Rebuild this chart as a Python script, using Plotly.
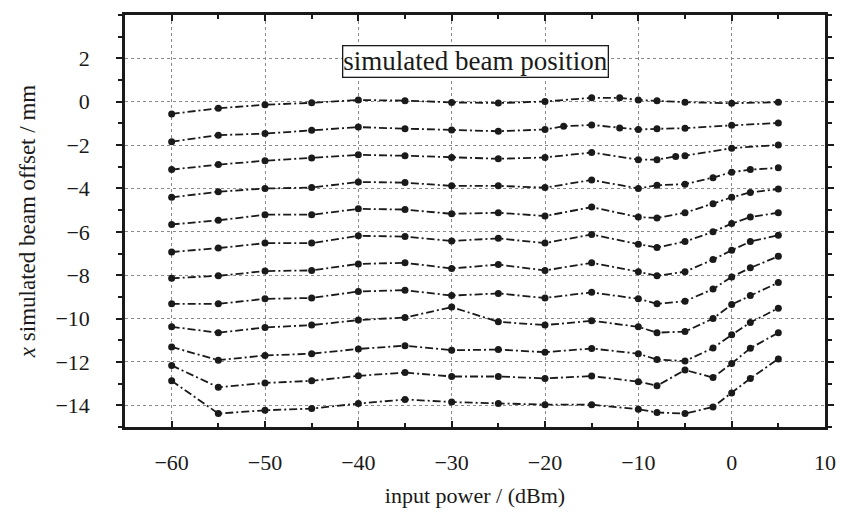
import plotly.graph_objects as go

POWER = [-60, -55, -50, -45, -40, -35, -30, -25, -20, -18, -15, -12, -10, -8, -6, -5, -2, 0, 2, 5]

line1 = [-0.56, -0.30, -0.14, -0.05, 0.08, 0.05, -0.03, -0.06, 0.01, None, 0.18, 0.18, 0.08, 0.04, None, -0.02, None, -0.07, None, -0.02]
line2 = [-1.84, -1.54, -1.47, -1.31, -1.17, -1.24, -1.30, -1.36, -1.28, -1.13, -1.07, -1.21, -1.28, -1.25, None, -1.22, None, -1.09, None, -0.98]
line3 = [-3.13, -2.90, -2.72, -2.60, -2.45, -2.49, -2.57, -2.63, -2.57, None, -2.34, None, -2.67, -2.67, -2.52, -2.49, None, -2.14, None, -1.99]
line4 = [-4.41, -4.15, -4.00, -3.96, -3.70, -3.73, -3.88, -3.88, -3.96, None, -3.61, None, -4.00, -3.85, None, -3.80, -3.50, -3.25, -3.13, -3.05]
line5 = [-5.66, -5.47, -5.21, -5.21, -4.94, -4.97, -5.17, -5.12, -5.27, None, -4.86, None, -5.32, -5.36, None, -5.12, -4.71, -4.41, -4.18, -4.03]
line6 = [-6.93, -6.75, -6.52, -6.52, -6.18, -6.22, -6.42, -6.30, -6.52, None, -6.12, None, -6.57, -6.72, None, -6.45, -6.00, -5.62, -5.32, -5.12]
line7 = [-8.14, -8.03, -7.81, -7.78, -7.48, -7.43, -7.69, -7.51, -7.78, None, -7.43, None, -7.84, -8.03, None, -7.84, -7.28, -6.85, -6.45, -6.16]
line8 = [-9.32, -9.32, -9.09, -9.05, -8.75, -8.69, -8.94, -8.84, -9.05, None, -8.79, None, -9.09, -9.32, None, -9.20, -8.64, -8.08, -7.66, -7.13]
line9 = [-10.38, -10.65, -10.41, -10.30, -10.07, -9.95, -9.47, -10.15, -10.30, None, -10.10, None, -10.38, -10.65, None, -10.60, -10.00, -9.35, -8.94, -8.34]
line10 = [-11.31, -11.92, -11.70, -11.62, -11.40, -11.25, -11.46, -11.43, -11.55, None, -11.38, None, -11.62, -11.89, None, -11.96, -11.36, -10.75, -10.18, -9.52]
line11 = [-12.16, -13.17, -12.97, -12.87, -12.64, -12.49, -12.67, -12.67, -12.76, None, -12.65, None, -12.91, -13.10, None, -12.37, -12.72, -12.07, -11.37, -10.65]
line12 = [-12.87, -14.38, -14.23, -14.15, -13.92, -13.73, -13.85, -13.92, -13.97, None, -13.97, None, -14.18, -14.33, None, -14.38, -14.08, -13.43, -12.76, -11.86]

LINES = [line1, line2, line3, line4, line5, line6, line7, line8, line9, line10, line11, line12]

X_TICKS = [-60, -50, -40, -30, -20, -10, 0, 10]
Y_TICKS = [2, 0, -2, -4, -6, -8, -10, -12, -14]


def fmt(v):
    return ("\u2212" + str(-v)) if v < 0 else str(v)


FONT = "Liberation Serif, Times New Roman, serif"
INK = "#1a1a1a"

fig = go.Figure()
for ys in LINES:
    fig.add_trace(go.Scatter(
        x=POWER, y=ys, mode="lines+markers", connectgaps=True,
        line=dict(color=INK, width=1.8, dash="8px,3px,2px,3px"),
        marker=dict(color=INK, size=7, symbol="circle"),
        showlegend=False, hoverinfo="skip",
    ))

fig.add_annotation(
    x=-27.5, y=1.85, xref="x", yref="y",
    text="simulated beam position", showarrow=False,
    font=dict(family=FONT, size=27, color=INK),
    bordercolor=INK, borderwidth=1.3, borderpad=0, bgcolor="white",
)

fig.update_xaxes(
    range=[-65, 10], tickvals=X_TICKS, ticktext=[fmt(v) for v in X_TICKS],
    showgrid=True, gridcolor="#8a8a8a", griddash="dot", gridwidth=1,
    showline=True, linecolor=INK, linewidth=2.5, mirror="ticks",
    ticks="inside", ticklen=6, tickcolor=INK, tickwidth=1.5,
    minor=dict(dtick=5, ticks="inside", ticklen=4, tickcolor=INK, showgrid=False),
    zeroline=False,
    tickfont=dict(family=FONT, size=22, color=INK),
    ticklabelstandoff=14,
    title=dict(text="input power / (dBm)", font=dict(family=FONT, size=22, color=INK), standoff=14),
)
fig.update_yaxes(
    range=[-15, 4], tickvals=Y_TICKS, ticktext=[fmt(v) for v in Y_TICKS],
    showgrid=True, gridcolor="#8a8a8a", griddash="dot", gridwidth=1,
    showline=True, linecolor=INK, linewidth=2.5, mirror="ticks",
    ticks="outside", ticklen=6, tickcolor=INK, tickwidth=1.5,
    minor=dict(dtick=1, ticks="outside", ticklen=4, tickcolor=INK, showgrid=False),
    zeroline=False,
    tickfont=dict(family=FONT, size=22, color=INK),
    ticklabelstandoff=22,
    title=dict(text="<i>x</i> simulated beam offset / mm", font=dict(family=FONT, size=23, color=INK), standoff=14),
)

fig.update_layout(
    width=848, height=517,
    margin=dict(l=125, r=18, t=13, b=85),
    paper_bgcolor="white", plot_bgcolor="white",
)

fig.write_html("out.html")
